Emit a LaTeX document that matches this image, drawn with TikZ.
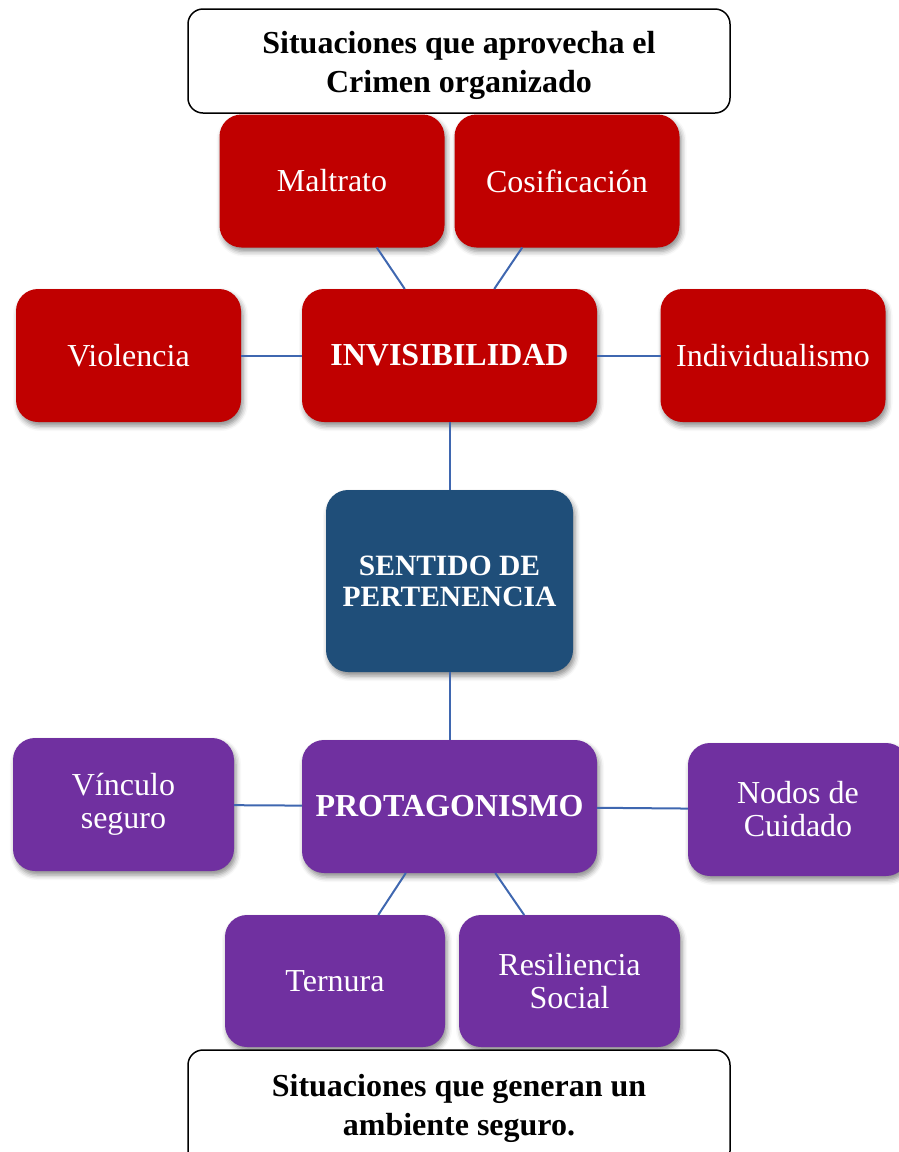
\documentclass[tikz,border=0pt]{standalone}
\usepackage{fontspec}
\setmainfont{Liberation Serif}
\usetikzlibrary{shadows.blur}
\definecolor{crimson}{HTML}{C00000}
\definecolor{deepblue}{HTML}{1F4E79}
\definecolor{violetbox}{HTML}{7030A0}
\definecolor{linkblue}{RGB}{63,103,176}

\tikzset{
  box/.style={rectangle, rounded corners=22pt, outer sep=0pt, inner sep=4pt,
    align=center, text=white,
    blur shadow={shadow xshift=2pt, shadow yshift=-4pt, shadow blur radius=5pt, shadow opacity=45}},
  redbox/.style={box, fill=crimson, minimum width=225pt, minimum height=133pt},
  purplebox/.style={box, fill=violetbox, minimum width=221pt, minimum height=133pt},
  sublabel/.style={font=\fontsize{32}{33}\selectfont},
  mainlabel/.style={font=\bfseries\fontsize{32}{32}\selectfont},
  link/.style={draw=linkblue, line width=2pt},
  note/.style={rectangle, rounded corners=15pt, draw=black, line width=1.5pt,
    fill=white, outer sep=0pt, minimum width=542pt},
  notetext/.style={align=center, inner sep=0pt,
    font=\bfseries\fontsize{32}{39}\selectfont},
}

\begin{document}
\begin{tikzpicture}[x=1pt, y=-1pt]
  \path[use as bounding box, clip] (0,0) rectangle (899,1152);

  % upper group: invisibility and its causes
  \node[redbox, sublabel] (mal) at (332,181) {Maltrato};
  \node[redbox, sublabel] (cos) at (567,181) {Cosificación};
  \node[redbox, sublabel] (vio) at (128.5,355.5) {Violencia};
  \node[redbox, mainlabel, minimum width=295pt] (inv) at (449.5,355.5) {INVISIBILIDAD};
  \node[redbox, sublabel] (ind) at (773,355.5) {Individualismo};

  % centre
  \node[box, fill=deepblue, minimum width=247pt, minimum height=182pt,
        font=\bfseries\fontsize{29.5}{31}\selectfont] (sen) at (449.5,581)
        {SENTIDO DE\\PERTENENCIA};

  % lower group: protagonism and protective factors
  \node[purplebox, mainlabel, minimum width=295pt] (pro) at (449.5,806.5) {PROTAGONISMO};
  \node[purplebox, sublabel] (vin) at (123.5,804.5) {Vínculo\\seguro};
  \node[purplebox, sublabel, minimum width=220pt] (nod) at (798,809.5) {Nodos de\\Cuidado};
  \node[purplebox, sublabel, minimum width=220pt, minimum height=132pt] (ter) at (335,981) {Ternura};
  \node[purplebox, sublabel, minimum height=132pt] (res) at (569.5,981) {Resiliencia\\Social};

  % connectors
  \draw[link] (mal) -- (inv);
  \draw[link] (cos) -- (inv);
  \draw[link] (vio) -- (inv);
  \draw[link] (inv) -- (ind);
  \draw[link] (inv) -- (sen);
  \draw[link] (sen) -- (pro);
  \draw[link] (vin) -- (pro);
  \draw[link] (pro) -- (nod);
  \draw[link] (pro) -- (ter);
  \draw[link] (pro) -- (res);

  % captions
  \node[note, minimum height=104pt] (top) at (459,61) {};
  \node[notetext] (toptext) at (459,65)
    {Situaciones que aprovecha el\\Crimen organizado};
  \node[note, minimum height=116pt] (bot) at (459,1108) {};
  \node[notetext] (bottext) at (459,1108)
    {Situaciones que generan un\\ambiente seguro.};
\end{tikzpicture}
\end{document}
